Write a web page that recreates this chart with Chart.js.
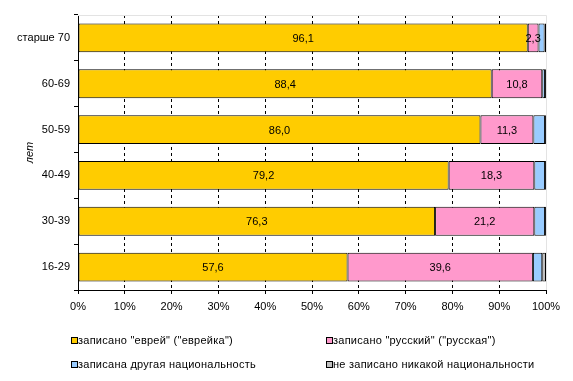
<!DOCTYPE html>
<html>
<head>
<meta charset="utf-8">
<script src="https://cdn.jsdelivr.net/npm/chart.js@4/dist/chart.umd.min.js"></script>
<style>
  html, body { margin: 0; padding: 0; background: #fff; }
  #wrap { position: relative; width: 573px; height: 381px; font-family: "Liberation Sans", Arial, sans-serif; }
  canvas { position: absolute; left: 0; top: 0; }
  .leg { position: absolute; font-size: 11px; line-height: 12px; color: #000; white-space: nowrap; letter-spacing: 0.25px; }
  .leg span.box { position: absolute; left: 0; top: 3px; width: 5px; height: 5px; border: 1px solid #000; }
  .leg span.txt { position: absolute; left: 7px; top: 0; }
</style>
</head>
<body>
<div id="wrap">
  <canvas id="c" width="573" height="381"></canvas>
</div>
<script>
const categories = ["старше 70", "60-69", "50-59", "40-49", "30-39", "16-29"];
const seriesNames = [
  'записано "еврей" ("еврейка")',
  'записано "русский" ("русская")',
  'записана другая национальность',
  'не записано никакой национальности'
];
const jewish  = [96.1, 88.4, 86.0, 79.2, 76.3, 57.6];
const russian = [2.3, 10.8, 11.3, 18.3, 21.2, 39.6];
const other   = [1.3, 0.6, 2.5, 2.3, 2.3, 2.0];
const none    = [0.3, 0.2, 0.2, 0.2, 0.2, 0.8];
const xTicks  = ["0%", "10%", "20%", "30%", "40%", "50%", "60%", "70%", "80%", "90%", "100%"];
const yTitle  = "лет";
const colors  = ["#FFCC00", "#FF99CC", "#99CCFF", "#C0C0C0"];
const seriesValues = [jewish, russian, other, none];

const labelPlugin = {
  id: 'labels',
  afterDatasetsDraw(chart) {
    const ctx = chart.ctx;
    ctx.save();
    ctx.font = '11px "Liberation Sans", Arial, sans-serif';
    ctx.fillStyle = '#000';
    ctx.textAlign = 'center';
    ctx.textBaseline = 'middle';
    [0, 1].forEach(di => {
      const meta = chart.getDatasetMeta(di);
      meta.data.forEach((bar, i) => {
        const v = chart.data.datasets[di].data[i];
        const cx = (bar.x + bar.base) / 2;
        ctx.fillText(v.toFixed(1).replace('.', ','), cx, bar.y + 1);
      });
    });
    ctx.restore();
  },
  beforeDatasetsDraw(chart) {
    const {ctx, chartArea: a} = chart;
    ctx.save();
    ctx.strokeStyle = '#e3e3e3';
    ctx.lineWidth = 1;
    ctx.beginPath();
    ctx.moveTo(a.left, a.top + 0.5);
    ctx.lineTo(a.right + 0.5, a.top + 0.5);
    ctx.lineTo(a.right + 0.5, a.bottom);
    ctx.stroke();
    ctx.restore();
  }
};

new Chart(document.getElementById('c'), {
  type: 'bar',
  data: {
    labels: categories,
    datasets: seriesValues.map((d, i) => ({
      label: seriesNames[i],
      data: d,
      backgroundColor: colors[i],
      borderColor: '#000',
      borderWidth: 1,
      borderSkipped: false,
      categoryPercentage: 1,
      barPercentage: 0.63
    }))
  },
  options: {
    indexAxis: 'y',
    responsive: false,
    animation: false,
    devicePixelRatio: 1,
    layout: { padding: { left: 0, top: 15, right: 27, bottom: 0 } },
    plugins: { legend: { display: false }, tooltip: { enabled: false } },
    scales: {
      x: {
        stacked: true,
        min: 0, max: 100,
        ticks: {
          stepSize: 10,
          autoSkip: false,
          maxRotation: 0,
          padding: 6,
          color: '#000',
          font: { size: 11, family: '"Liberation Sans", Arial, sans-serif' },
          callback: (v, i) => xTicks[i]
        },
        grid: {
          color: (c) => (c.index === 0 || c.index === 10) ? 'rgba(0,0,0,0)' : '#000',
          tickColor: '#000',
          tickLength: 4,
          lineWidth: 1
        },
        border: { display: true, color: '#000', dash: [3, 3] },
        afterFit: (s) => { s.height = 91; }
      },
      y: {
        stacked: true,
        ticks: {
          color: '#000',
          padding: 4,
          font: { size: 11, family: '"Liberation Sans", Arial, sans-serif' }
        },
        grid: {
          drawOnChartArea: false,
          drawTicks: true,
          tickLength: 4,
          tickColor: '#000',
          color: '#000'
        },
        border: { display: true, color: '#000' },
        title: {
          display: true,
          text: yTitle,
          color: '#000',
          padding: { top: 23, bottom: 0 },
          font: { size: 11, style: 'italic', family: '"Liberation Sans", Arial, sans-serif' }
        },
        afterFit: (s) => { s.width = 78; }
      }
    }
  },
  plugins: [labelPlugin]
});

// HTML legend built from the series names
const legPos = [[71, 334], [326, 334], [71, 358], [326, 358]];
const wrap = document.getElementById('wrap');
seriesNames.forEach((n, i) => {
  const d = document.createElement('div');
  d.className = 'leg';
  d.style.left = legPos[i][0] + 'px';
  d.style.top = legPos[i][1] + 'px';
  d.innerHTML = '<span class="box" style="background:' + colors[i] + '"></span><span class="txt"></span>';
  d.querySelector('.txt').textContent = n;
  wrap.appendChild(d);
});
</script>
</body>
</html>
